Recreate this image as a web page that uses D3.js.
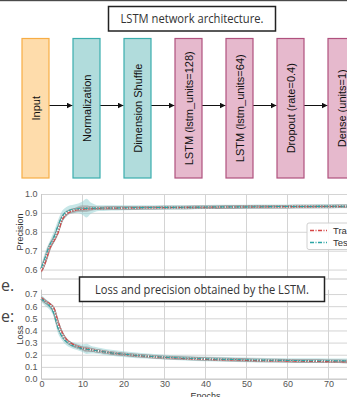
<!DOCTYPE html>
<html>
<head>
<meta charset="utf-8">
<script src="https://d3js.org/d3.v7.min.js"></script>
<style>
  body { margin: 0; background: #fff; }
  svg { display: block; }
  .tick text { font: 9px "Liberation Sans", Arial, sans-serif; fill: #555; }
</style>
</head>
<body>
<script>

// ---- architecture diagram ----
var layers = ["Input", "Normalization", "Dimension Shuffle", "LSTM (lstm_units=128)",
              "LSTM (lstm_units=64)", "Dropout (rate=0.4)", "Dense (units=1)"];
var layerKind = ["input", "prep", "prep", "model", "model", "model", "model"];

// ---- training curves ----
var epochs = [0,1,2,3,4,5,6,7,8,9,10,11,12,13,14,15,17,20,25,30,35,40,45,50,55,60,65,70,75,80];

var trainPrec = [0.59,0.64,0.71,0.75,0.79,0.86,0.89,0.905,0.912,0.917,0.92,0.921,0.922,0.923,0.924,0.925,0.925,0.926,0.927,0.928,0.929,0.93,0.931,0.931,0.932,0.933,0.933,0.934,0.934,0.935];
var testPrec  = [0.61,0.67,0.73,0.77,0.83,0.88,0.905,0.915,0.92,0.922,0.923,0.924,0.925,0.925,0.925,0.926,0.926,0.927,0.928,0.929,0.93,0.931,0.932,0.932,0.933,0.934,0.934,0.935,0.935,0.936];
var meanPrec  = [0.60,0.655,0.72,0.76,0.81,0.87,0.898,0.91,0.916,0.92,0.922,0.923,0.924,0.924,0.925,0.925,0.926,0.926,0.927,0.928,0.929,0.93,0.931,0.932,0.932,0.933,0.934,0.934,0.935,0.935];
var testPrecHi  = [0.63,0.70,0.75,0.80,0.86,0.91,0.93,0.94,0.945,0.95,0.96,0.975,0.955,0.945,0.94,0.94,0.94,0.94,0.94,0.94,0.94,0.942,0.943,0.943,0.944,0.945,0.945,0.946,0.946,0.947];
var testPrecLo  = [0.59,0.65,0.70,0.74,0.79,0.85,0.88,0.895,0.90,0.90,0.89,0.875,0.895,0.905,0.91,0.91,0.912,0.914,0.915,0.917,0.918,0.92,0.921,0.921,0.922,0.923,0.923,0.924,0.924,0.925];
var trainPrecHi = [0.60,0.66,0.72,0.76,0.81,0.87,0.90,0.915,0.925,0.935,0.94,0.94,0.935,0.932,0.93,0.93,0.93,0.931,0.932,0.933,0.934,0.935,0.936,0.936,0.937,0.938,0.938,0.939,0.939,0.94];
var trainPrecLo = [0.58,0.63,0.70,0.74,0.78,0.85,0.88,0.895,0.90,0.905,0.905,0.905,0.91,0.915,0.918,0.92,0.92,0.921,0.922,0.923,0.924,0.925,0.926,0.926,0.927,0.928,0.928,0.929,0.929,0.93];

var trainLoss = [0.67,0.64,0.62,0.59,0.48,0.39,0.33,0.30,0.28,0.265,0.255,0.248,0.242,0.236,0.23,0.225,0.215,0.203,0.188,0.177,0.168,0.162,0.157,0.153,0.15,0.147,0.145,0.143,0.141,0.14];
var testLoss  = [0.66,0.63,0.60,0.54,0.42,0.35,0.31,0.285,0.27,0.26,0.25,0.245,0.24,0.235,0.23,0.225,0.215,0.205,0.19,0.18,0.172,0.166,0.162,0.158,0.155,0.153,0.151,0.15,0.149,0.148];
var meanLoss  = [0.665,0.635,0.61,0.565,0.45,0.37,0.32,0.292,0.275,0.262,0.252,0.246,0.241,0.235,0.23,0.225,0.215,0.204,0.189,0.178,0.17,0.164,0.16,0.156,0.153,0.15,0.148,0.147,0.145,0.144];
var testLossHi  = [0.69,0.66,0.63,0.57,0.46,0.38,0.34,0.31,0.30,0.29,0.285,0.29,0.275,0.265,0.258,0.252,0.24,0.228,0.212,0.2,0.192,0.186,0.181,0.177,0.174,0.172,0.17,0.169,0.168,0.167];
var testLossLo  = [0.63,0.60,0.57,0.51,0.38,0.32,0.28,0.26,0.245,0.235,0.222,0.205,0.21,0.21,0.205,0.2,0.192,0.182,0.168,0.16,0.152,0.146,0.142,0.139,0.136,0.134,0.132,0.131,0.13,0.129];
var trainLossHi = [0.68,0.65,0.63,0.60,0.49,0.40,0.34,0.31,0.29,0.28,0.27,0.27,0.26,0.25,0.24,0.234,0.223,0.21,0.195,0.184,0.175,0.169,0.164,0.16,0.157,0.154,0.152,0.15,0.148,0.147];
var trainLossLo = [0.66,0.63,0.61,0.58,0.47,0.38,0.32,0.29,0.27,0.25,0.235,0.22,0.225,0.222,0.22,0.216,0.207,0.196,0.181,0.17,0.161,0.155,0.15,0.146,0.143,0.14,0.138,0.136,0.134,0.133];

var precTicks = [0.6, 0.7, 0.8, 0.9, 1.0];
var lossTicks = [0.0, 0.1, 0.2, 0.3, 0.4, 0.5, 0.6, 0.7];
var epochTicks = [0, 10, 20, 30, 40, 50, 60, 70];
var seriesNames = ["Train", "Test"];

var W = 347, H = 397;
var svg = d3.select("body").append("svg").attr("width", W).attr("height", H);

// page edge line at the very top
svg.append("rect").attr("x", 0).attr("y", 0).attr("width", W).attr("height", 1.2).attr("fill", "#4a4a4a");

var colors = {
  input: { fill: "#fedcab", stroke: "#f7ad45" },
  prep:  { fill: "#b1dcdc", stroke: "#3aadad" },
  model: { fill: "#e6b9cd", stroke: "#b0517e" }
};

// 51px step, 27px wide boxes
var bx = d3.scaleBand().domain(layers).range([22, 22 + 51 * (7 - 24 / 51)]).paddingInner(24 / 51).paddingOuter(0);
var boxTop = 38.5, boxH = 139.5;

svg.append("defs").append("marker")
  .attr("id", "arr").attr("viewBox", "0 0 10 10").attr("refX", 10).attr("refY", 5)
  .attr("markerWidth", 6).attr("markerHeight", 6).attr("orient", "auto")
  .append("path").attr("d", "M0,0L10,5L0,10z").attr("fill", "#111");

svg.selectAll(".arrow").data(layers.slice(1)).enter()
  .append("line").attr("class", "arrow")
  .attr("x1", function(d, i) { return bx(layers[i]) + bx.bandwidth(); })
  .attr("x2", function(d) { return bx(d) - 0.5; })
  .attr("y1", 105.5).attr("y2", 105.5)
  .attr("stroke", "#111").attr("stroke-width", 1)
  .attr("marker-end", "url(#arr)");

var box = svg.selectAll(".layer").data(layers).enter().append("g").attr("class", "layer");
box.append("rect")
  .attr("x", function(d) { return bx(d); })
  .attr("y", boxTop).attr("width", bx.bandwidth()).attr("height", boxH)
  .attr("fill", function(d, i) { return colors[layerKind[i]].fill; })
  .attr("stroke", function(d, i) { return colors[layerKind[i]].stroke; })
  .attr("stroke-width", 1.2);
box.append("text")
  .attr("transform", function(d) { return "translate(" + (bx(d) + bx.bandwidth() / 2 + 4) + "," + (boxTop + boxH / 2) + ") rotate(-90)"; })
  .attr("text-anchor", "middle")
  .style("font", "11px 'Liberation Sans', Arial, sans-serif")
  .attr("fill", "#111")
  .text(function(d) { return d; });

function titleBox(x, y, w, h, label, tl) {
  svg.append("rect").attr("x", x).attr("y", y).attr("width", w).attr("height", h)
    .attr("fill", "#fff").attr("stroke", "#222").attr("stroke-width", 1.5);
  svg.append("text").attr("x", x + w / 2).attr("y", y + h / 2 + 4.5)
    .attr("text-anchor", "middle")
    .attr("textLength", tl).attr("lengthAdjust", "spacingAndGlyphs")
    .style("font", "13px 'Open Sans', sans-serif").attr("fill", "#333")
    .text(label);
}

titleBox(108.5, 6.5, 167, 24.5, "LSTM network architecture.", 143);

// ---- plots ----
var x = d3.scaleLinear().domain([0, 80]).range([41.5, 369.5]);
var yP = d3.scaleLinear().domain([0.55, 1.0]).range([279, 194]);
var yL = d3.scaleLinear().domain([0, 0.735]).range([379, 289.8]);

function panel(y, ticks, label, lab, labY, series) {
  var g = svg.append("g");
  var r = y.range();
  g.append("rect").attr("x", x(0)).attr("y", r[1]).attr("width", x(80) - x(0)).attr("height", r[0] - r[1]).attr("fill", "#fff");
  g.selectAll(".hg").data(ticks).enter().append("line")
    .attr("x1", x(0)).attr("x2", x(80)).attr("y1", function(d) { return y(d) + 0.5; }).attr("y2", function(d) { return y(d) + 0.5; })
    .attr("stroke", "#d4d4d4").attr("stroke-width", 1);
  g.selectAll(".vg").data(epochTicks).enter().append("line")
    .attr("x1", function(d) { return x(d); }).attr("x2", function(d) { return x(d); })
    .attr("y1", r[0]).attr("y2", r[1])
    .attr("stroke", "#d4d4d4").attr("stroke-width", 1);
  g.append("line").attr("x1", x(0)).attr("x2", x(0)).attr("y1", r[0]).attr("y2", r[1]).attr("stroke", "#c8c8c8");
  g.append("line").attr("x1", x(0)).attr("x2", x(80)).attr("y1", r[0]).attr("y2", r[0]).attr("stroke", "#c8c8c8");

  var ya = d3.axisLeft(y).tickValues(ticks).tickFormat(d3.format(".1f")).tickSize(0).tickPadding(4);
  var ax = g.append("g").attr("transform", "translate(" + x(0) + ",0)").call(ya);
  ax.select(".domain").remove();

  g.append("text").attr("transform", "translate(" + lab + "," + labY + ") rotate(-90)")
    .attr("text-anchor", "middle").style("font", "9px 'Liberation Sans', Arial, sans-serif").attr("fill", "#333")
    .text(label);

  var area = function(lo, hi) {
    return d3.area().x(function(d, i) { return x(epochs[i]); })
      .y0(function(d, i) { return y(lo[i]); }).y1(function(d, i) { return y(hi[i]); })
      .curve(d3.curveMonotoneX)(epochs);
  };
  var line = function(v) {
    return d3.line().x(function(d, i) { return x(epochs[i]); }).y(function(d, i) { return y(v[i]); })
      .curve(d3.curveMonotoneX)(epochs);
  };
  g.append("path").attr("d", area(series.tLo, series.tHi)).attr("fill", "#8fd0d2").attr("fill-opacity", 0.5);
  g.append("path").attr("d", area(series.rLo, series.rHi)).attr("fill", "#9a9a9a").attr("fill-opacity", 0.55);
  g.append("path").attr("d", line(series.mean)).attr("fill", "none").attr("stroke", "#9a9a9a").attr("stroke-width", 3.5);
  g.append("path").attr("d", line(series.mean)).attr("fill", "none").attr("stroke", "#fff").attr("stroke-width", 2).attr("stroke-dasharray", "1.2,1.6");
  g.append("path").attr("d", line(series.train)).attr("fill", "none").attr("stroke", "#d64545").attr("stroke-width", 1.1).attr("stroke-dasharray", "4,1.5,1,1.5");
  g.append("path").attr("d", line(series.test)).attr("fill", "none").attr("stroke", "#2aa5a5").attr("stroke-width", 1.1).attr("stroke-dasharray", "4,1.5,1,1.5");
  return g;
}

panel(yP, precTicks, "Precision", 23, 232, {
  train: trainPrec, test: testPrec, mean: meanPrec,
  tLo: testPrecLo, tHi: testPrecHi, rLo: trainPrecLo, rHi: trainPrecHi
});

// legend
var leg = svg.append("g").attr("transform", "translate(307,223)");
leg.append("rect").attr("width", 60).attr("height", 26.5).attr("rx", 2)
  .attr("fill", "#fff").attr("fill-opacity", 0.9).attr("stroke", "#d0d0d0");
var legColors = ["#d64545", "#2aa5a5"];
leg.selectAll(".li").data(seriesNames).enter().append("g")
  .attr("transform", function(d, i) { return "translate(0," + (7.5 + i * 12) + ")"; })
  .each(function(d, i) {
    var e = d3.select(this);
    e.append("line").attr("x1", 3).attr("x2", 20).attr("y1", 0).attr("y2", 0)
      .attr("stroke", legColors[i]).attr("stroke-width", 1.3).attr("stroke-dasharray", "4,1.5,1,1.5");
    e.append("text").attr("x", 26).attr("y", 3.5)
      .style("font", "9.5px 'Liberation Sans', Arial, sans-serif").attr("fill", "#333").text(d);
  });

panel(yL, lossTicks, "Loss", 23, 335, {
  train: trainLoss, test: testLoss, mean: meanLoss,
  tLo: testLossLo, tHi: testLossHi, rLo: trainLossLo, rHi: trainLossHi
});

var xa = d3.axisBottom(x).tickValues(epochTicks).tickFormat(d3.format("d")).tickSize(0).tickPadding(2);
var xg = svg.append("g").attr("transform", "translate(0," + yL(0) + ")").call(xa);
xg.select(".domain").remove();
svg.append("text").attr("x", x(40)).attr("y", 399).attr("text-anchor", "middle")
  .style("font", "9px 'Liberation Sans', Arial, sans-serif").attr("fill", "#333").text("Epochs");

titleBox(79.5, 277, 245, 24.5, "Loss and precision obtained by the LSTM.", 214);

// stray page text at the left margin
svg.append("text").attr("x", 1).attr("y", 291)
  .style("font", "16px 'Open Sans', sans-serif").attr("fill", "#444").text("e.");
svg.append("text").attr("x", 1).attr("y", 322)
  .style("font", "16px 'Open Sans', sans-serif").attr("fill", "#444").text("e:");
</script>
</body>
</html>
